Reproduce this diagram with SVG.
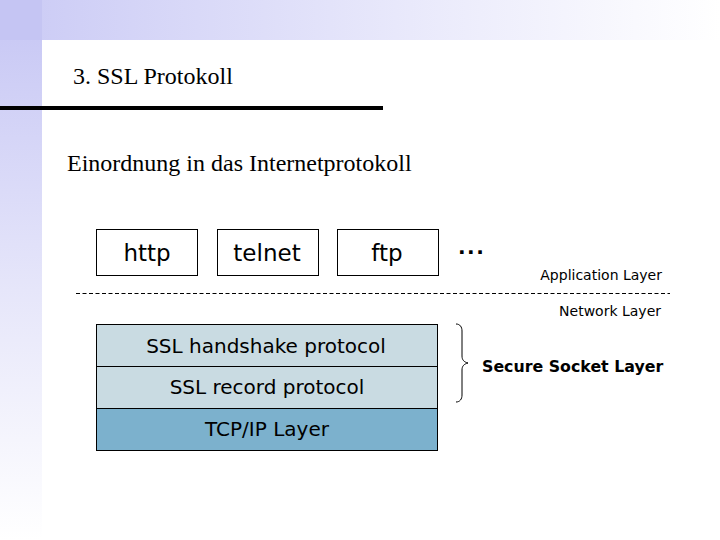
<svg xmlns="http://www.w3.org/2000/svg" width="720" height="540" viewBox="0 0 720 540">
  <defs>
    <linearGradient id="gTop" x1="0" y1="0" x2="1" y2="0">
      <stop offset="0" stop-color="#cacaf5"/>
      <stop offset="0.55" stop-color="#e8e8fb"/>
      <stop offset="1" stop-color="#ffffff"/>
    </linearGradient>
    <linearGradient id="gLeft" x1="0" y1="0" x2="0" y2="1">
      <stop offset="0" stop-color="#cacaf5"/>
      <stop offset="0.5" stop-color="#e6e6fa"/>
      <stop offset="1" stop-color="#ffffff"/>
    </linearGradient>
    <style>
      .serif { font-family: "Liberation Serif", "Times New Roman", serif; fill: #000; }
      .sans { font-family: "DejaVu Sans", Verdana, sans-serif; fill: #000; }
      .box { fill: #ffffff; stroke: #000; stroke-width: 1; }
      .light { fill: #c9dbe2; stroke: #000; stroke-width: 1; }
      .dark { fill: #7cb1cd; stroke: #000; stroke-width: 1; }
    </style>
  </defs>

  <rect x="0" y="0" width="720" height="540" fill="#ffffff"/>
  <rect x="0" y="0" width="720" height="40" fill="url(#gTop)"/>
  <rect x="0" y="40" width="42" height="500" fill="url(#gLeft)"/>
  <rect x="0" y="0" width="42" height="40" fill="#c5c5f3"/>
  <rect x="0" y="106" width="383" height="4" fill="#000"/>

  <text class="serif" x="73" y="84" font-size="24">3. SSL Protokoll</text>
  <text class="serif" x="67" y="171" font-size="24">Einordnung in das Internetprotokoll</text>

  <g id="http">
    <rect class="box" x="96.5" y="229.5" width="101" height="46"/>
    <text class="sans" x="147" y="261" font-size="23" text-anchor="middle">http</text>
  </g>
  <g id="telnet">
    <rect class="box" x="217.5" y="229.5" width="101" height="46"/>
    <text class="sans" x="267" y="261" font-size="23" text-anchor="middle">telnet</text>
  </g>
  <g id="ftp">
    <rect class="box" x="337.5" y="229.5" width="101" height="46"/>
    <text class="sans" x="387" y="261" font-size="23" text-anchor="middle">ftp</text>
  </g>
  <g id="dots">
    <text class="sans" x="458" y="254" font-size="20" font-weight="bold" letter-spacing="1.5">...</text>
  </g>

  <g id="application-layer">
    <text class="sans" x="662" y="280" font-size="14" text-anchor="end">Application Layer</text>
  </g>
  <g id="network-layer">
    <text class="sans" x="661" y="316" font-size="14" text-anchor="end">Network Layer</text>
  </g>

  <g id="ssl-handshake">
    <rect class="light" x="96.5" y="324.5" width="341" height="42"/>
    <text class="sans" x="266" y="353" font-size="20" text-anchor="middle">SSL handshake protocol</text>
  </g>
  <g id="ssl-record">
    <rect class="light" x="96.5" y="366.5" width="341" height="42"/>
    <text class="sans" x="267" y="394" font-size="20" text-anchor="middle">SSL record protocol</text>
  </g>
  <g id="tcpip">
    <rect class="dark" x="96.5" y="408.5" width="341" height="42"/>
    <text class="sans" x="267" y="436" font-size="20" text-anchor="middle">TCP/IP Layer</text>
  </g>

  <g id="secure-socket-layer">
    <text class="sans" x="482" y="372" font-size="15.8" font-weight="bold">Secure Socket Layer</text>
  </g>

  <g id="connectors" fill="none" stroke="#000" stroke-width="1">
    <line x1="76" y1="293.5" x2="670" y2="293.5" stroke-dasharray="4,2.5"/>
    <path d="M456,324 C460,324 462,327 462,331 L462,356 C462,360 464,362 468,363 C464,364 462,366 462,370 L462,395 C462,399 460,402 456,402"/>
  </g>
</svg>
